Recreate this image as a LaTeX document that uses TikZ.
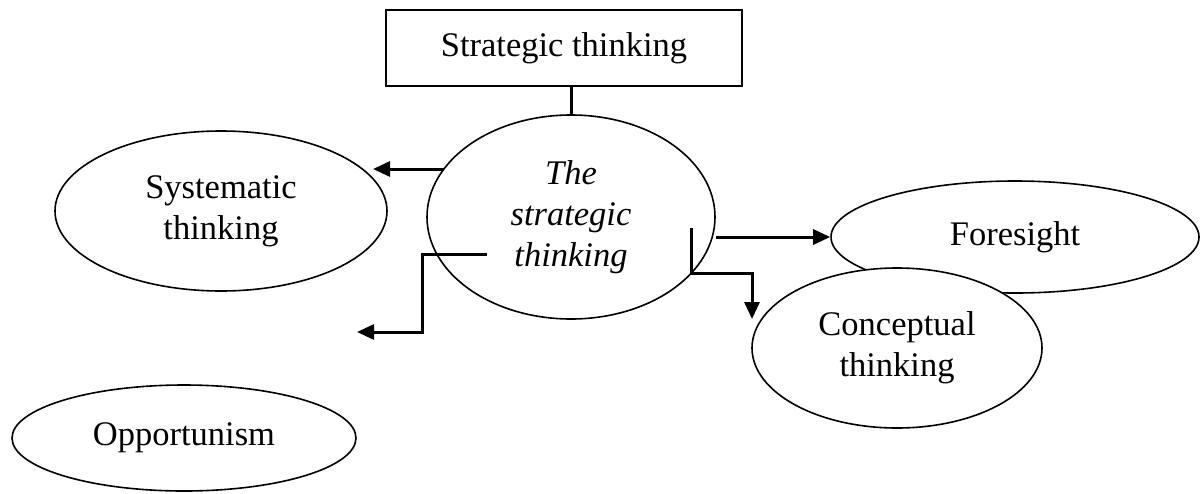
\documentclass[tikz,border=0pt]{standalone}
\usepackage{fontspec}
\setmainfont{Liberation Serif}
\usetikzlibrary{shapes.geometric,arrows.meta}
\begin{document}
\begin{tikzpicture}[x=1pt,y=-1pt,
  every node/.style={font=\fontsize{34.5}{41}\selectfont, align=center},
  oval/.style={ellipse, draw, line width=1.6pt, inner sep=0pt},
  box/.style={rectangle, draw, line width=1.9pt, inner sep=0pt},
  conn/.style={line width=3pt},
  arr/.style={conn, -{Triangle[length=17pt,width=15pt]}}]
\useasboundingbox (0,0) rectangle (1201,493);

\node[box, minimum width=356pt, minimum height=76pt] (top) at (564,48) {Strategic thinking};
\node[oval, minimum width=288pt, minimum height=204pt] (central) at (571,217) {\itshape The\\\itshape strategic\\\itshape thinking};
\node[oval, minimum width=332pt, minimum height=160pt] (sys) at (221,211) {Systematic\\thinking};
\node[oval, minimum width=368pt, minimum height=112pt] (fore) at (1015,237) {Foresight};
\node[oval, fill=white, minimum width=290pt, minimum height=160pt] (conc) at (897,348) {Conceptual\\thinking};
\node[oval, minimum width=344pt, minimum height=106pt] (opp) at (184,438) {Opportunism};

\coordinate (tl) at (373,169);
\coordinate (ls) at (487,254);
\coordinate (lc) at (422,254);
\coordinate (ld) at (422,332);
\coordinate (lt) at (357,332);
\coordinate (rs) at (691,228);
\coordinate (rc) at (691,273);
\coordinate (rd) at (752,273);
\coordinate (rt) at (752,319);

\draw[conn] (top.south -| central.north) -- (central.north);
\draw[arr] (tl -| central.159) -- (tl);
\draw[arr] (ls) -- (lc) -- (ld) -- (lt);
\draw[arr] (fore.west -| central.east) -- (fore.west);
\draw[arr] (rs) -- (rc) -- (rd) -- (rt);
\end{tikzpicture}
\end{document}
